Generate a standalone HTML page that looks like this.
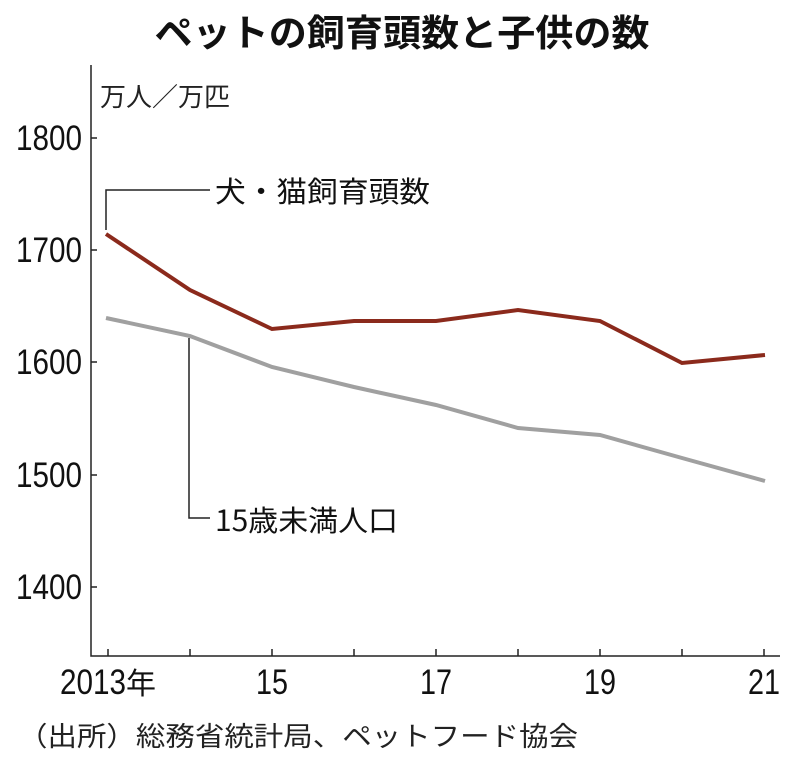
<!DOCTYPE html>
<html><head><meta charset="utf-8"><style>
body{margin:0;background:#fff;}
svg{display:block;font-family:"Liberation Sans","Noto Sans CJK JP",sans-serif;}
</style></head><body>
<svg width="800" height="762" viewBox="0 0 800 762" xmlns="http://www.w3.org/2000/svg">
<text x="402" y="46" text-anchor="middle" font-size="37" font-weight="bold" fill="#111" font-family="'Noto Sans CJK JP',sans-serif" textLength="495" lengthAdjust="spacingAndGlyphs">ペットの飼育頭数と子供の数</text>
<text x="100" y="106" font-size="26" fill="#222" font-family="'Noto Sans CJK JP',sans-serif">万人／万匹</text>
<g fill="#111" font-size="35" text-anchor="end">
<text x="82" y="150" textLength="66" lengthAdjust="spacingAndGlyphs">1800</text>
<text x="82" y="262" textLength="66" lengthAdjust="spacingAndGlyphs">1700</text>
<text x="82" y="374" textLength="66" lengthAdjust="spacingAndGlyphs">1600</text>
<text x="82" y="487" textLength="66" lengthAdjust="spacingAndGlyphs">1500</text>
<text x="82" y="599" textLength="66" lengthAdjust="spacingAndGlyphs">1400</text>
</g>
<g stroke="#222" stroke-width="1.5" fill="none">
<path d="M91 65V656H780"/>
<path d="M91 138h6M91 250h6M91 362h6M91 475h6M91 587h6"/>
<path d="M108 656v-7M190 656v-7M272 656v-7M354 656v-7M436 656v-7M518 656v-7M600 656v-7M682 656v-7M764 656v-7"/>
</g>
<g fill="#111" font-size="35">
<text x="60" y="694" textLength="66" lengthAdjust="spacingAndGlyphs">2013</text>
<text x="126" y="694" font-size="30" font-family="'Noto Sans CJK JP',sans-serif">年</text>
<text x="272" y="694" text-anchor="middle" textLength="32" lengthAdjust="spacingAndGlyphs">15</text>
<text x="436" y="694" text-anchor="middle" textLength="32" lengthAdjust="spacingAndGlyphs">17</text>
<text x="600" y="694" text-anchor="middle" textLength="32" lengthAdjust="spacingAndGlyphs">19</text>
<text x="764" y="694" text-anchor="middle" textLength="32" lengthAdjust="spacingAndGlyphs">21</text>
</g>
<polyline fill="none" stroke="#a0a0a0" stroke-width="4" points="106,318 190,336 272,367 354,387 436,405 518,428 600,435 682,458 765,481"/>
<polyline fill="none" stroke="#8b2a1c" stroke-width="4" points="106,234 190,290 272,329 354,321 436,321 518,310 600,321 682,363 765,355"/>
<path d="M106 230V190H210" stroke="#222" stroke-width="1.5" fill="none"/>
<path d="M189 338V518H210" stroke="#222" stroke-width="1.5" fill="none"/>
<text x="215" y="202" font-size="29" fill="#111" font-family="'Noto Sans CJK JP',sans-serif" textLength="215" lengthAdjust="spacingAndGlyphs">犬・猫飼育頭数</text>
<text x="215" y="531" font-size="29" fill="#111" font-family="'Noto Sans CJK JP',sans-serif" textLength="183" lengthAdjust="spacingAndGlyphs">15歳未満人口</text>
<text x="18" y="746" font-size="27" fill="#222" font-family="'Noto Sans CJK JP',sans-serif" textLength="560" lengthAdjust="spacingAndGlyphs">（出所）総務省統計局、ペットフード協会</text>
</svg>
</body></html>
